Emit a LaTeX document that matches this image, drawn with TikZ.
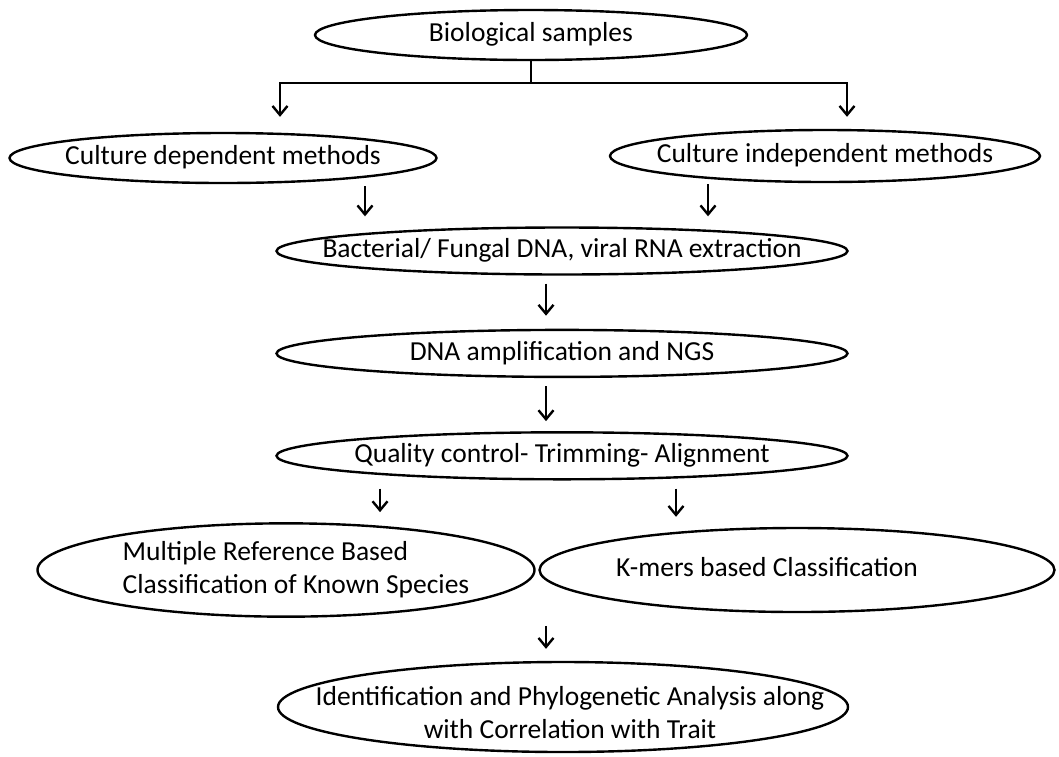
\documentclass[tikz,border=0pt]{standalone}
\usepackage{fontspec}
\setmainfont{Carlito}
\usetikzlibrary{arrows.meta, positioning, shapes.geometric}

% text that does not widen its ellipse (#1 moves it sideways by half)
\newcommand{\flattext}[3][0pt]{\makebox[0pt]{\hspace*{#1}\begin{tabular}{@{}#2@{}}#3\end{tabular}}}

\begin{document}
\begin{tikzpicture}[
    x=1pt, y=-1pt,
    node distance=53pt,
    ell/.style={draw, ellipse, line width=2.4pt, inner sep=0pt,
                font=\fontsize{27.5}{33}\selectfont},
    wide/.style={ell, minimum width=571pt, minimum height=47pt},
    arr/.style={-{Straight Barb[length=9pt, width=15pt]}, line width=2.4pt},
  ]
    \useasboundingbox (0,0) rectangle (1059,756);

    \node[ell, minimum width=432pt, minimum height=50pt] (bio) at (531,35) {\flattext{c}{Biological samples}};
    \node[ell, minimum width=427pt, minimum height=50pt] (cd) at (223,158) {\flattext{c}{Culture dependent methods}};
    \node[ell, minimum width=430pt, minimum height=52pt] (ci) at (825,156) {\flattext{c}{Culture independent methods}};
    \node[wide] (bact) at (562,251) {\flattext{c}{Bacterial/ Fungal DNA, viral RNA extraction}};
    \node[wide, below=of bact] (dna) {\flattext{c}{DNA amplification and NGS}};
    \node[wide, below=of dna] (qc) {\flattext{c}{Quality control- Trimming- Alignment}};
    \node[ell, minimum width=497pt, minimum height=84pt] (mr) at (286,570)
      {\flattext[20pt]{l}{Multiple Reference Based\\Classification of Known Species}};
    \node[ell, minimum width=515pt, minimum height=84pt] (km) at (797,570)
      {\flattext[-60pt]{c}{K-mers based Classification}};
    \node[ell, minimum width=570pt, minimum height=90pt] (id) at (563,707)
      {\raisebox{-15pt}[0pt][0pt]{\flattext[14pt]{c}{Identification and Phylogenetic Analysis along\\with Correlation with Trait}}};

    % split from the samples
    \coordinate (split) at (531,83);
    \draw[line width=2.4pt] (bio.south) -- (split);
    \draw[arr, shorten >=15pt] (split) -| ([xshift=57pt]cd.north);
    \draw[arr, shorten >=12pt] (split) -| ([xshift=22pt]ci.north);

    \draw[arr, shorten <=2pt, shorten >=10pt] ([xshift=142pt]cd.south) -- ([xshift=-197pt]bact.north);
    \draw[arr, shorten <=1pt, shorten >=10pt] ([xshift=-117pt]ci.south) -- ([xshift=146pt]bact.north);
    \draw[arr, shorten <=8pt, shorten >=13pt] ([xshift=-16pt]bact.south) -- ([xshift=-16pt]dna.north);
    \draw[arr, shorten <=8pt, shorten >=10pt] ([xshift=-16pt]dna.south) -- ([xshift=-16pt]qc.north);
    \draw[arr, shorten <=8pt, shorten >=10pt] ([xshift=-182pt]qc.south) -- ([xshift=94pt]mr.north);
    \draw[arr, shorten <=8pt, shorten >=10pt] ([xshift=114pt]qc.south) -- ([xshift=-121pt]km.north);
    \draw[arr, shorten <=8pt, shorten >=12pt] ([xshift=260pt]mr.south) -- ([xshift=-17pt]id.north);
\end{tikzpicture}
\end{document}
